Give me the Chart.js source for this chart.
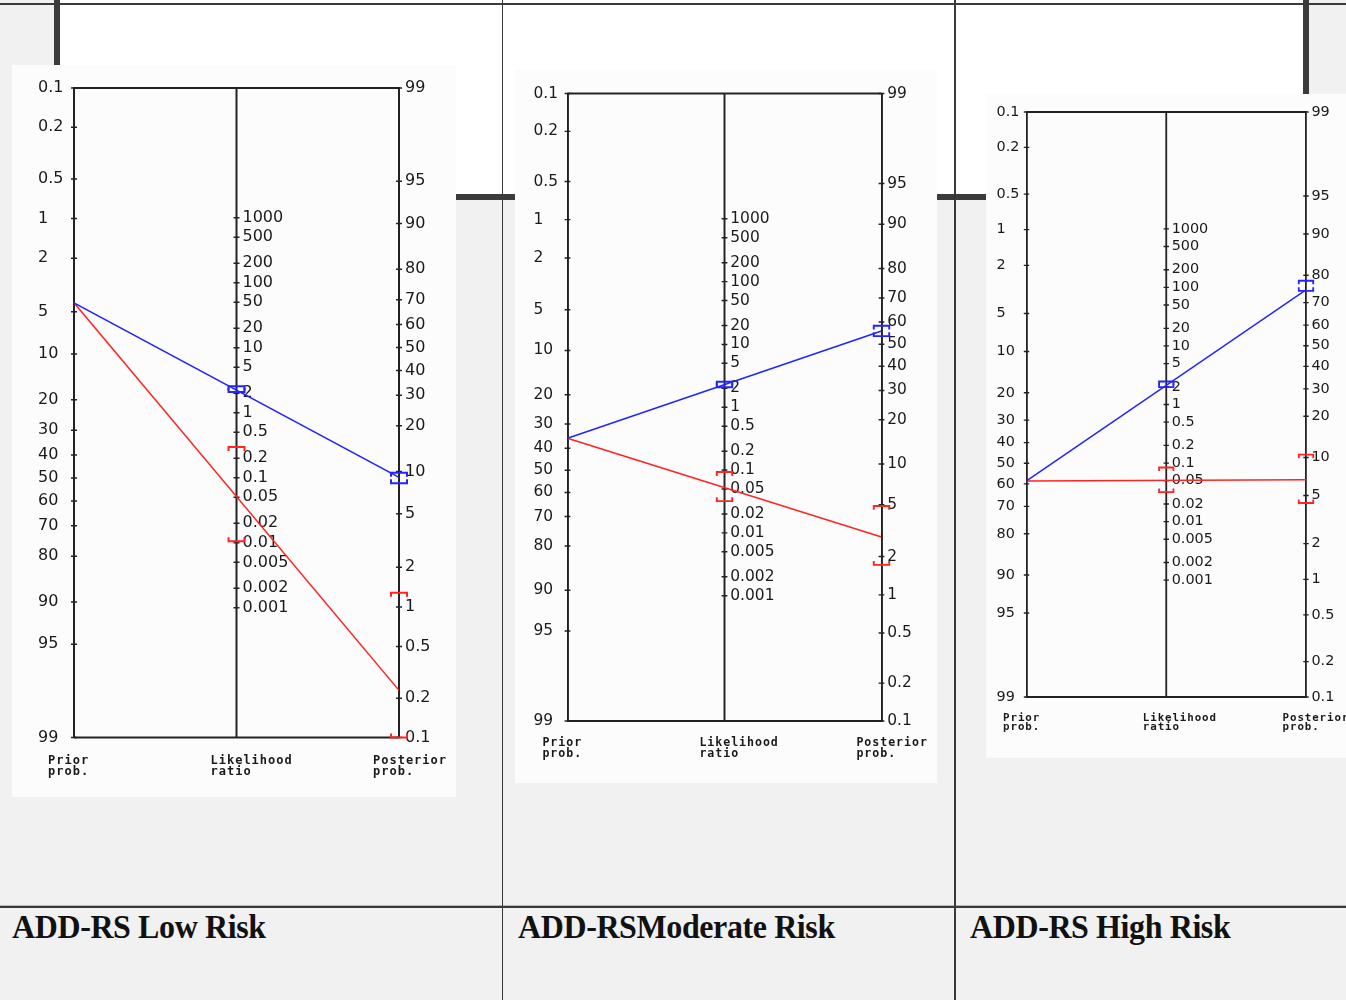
<!DOCTYPE html>
<html>
<head>
<meta charset="utf-8">
<title>ADD-RS Fagan nomograms</title>
<script src="https://cdn.jsdelivr.net/npm/chart.js"></script>
<style>
  html, body { margin: 0; padding: 0; }
  body { width: 1346px; height: 1000px; overflow: hidden; background: #f1f1f1; position: relative; }
  .connector { position: absolute; left: 54px; top: -20px; width: 1255px; height: 220px; box-sizing: border-box; background: #fff; border: 6px solid #3b3b3b; }
  .rule { position: absolute; background: #3a3a3a; }
  .panel { position: absolute; background: #fcfcfc; }
  .panel canvas { display: block; }
  .caption { position: absolute; top: 911px; font-family: 'Liberation Serif', serif; font-weight: bold; font-size: 32px; line-height: 32px; letter-spacing: -0.4px; color: #111; white-space: nowrap; transform: scaleY(1.08); transform-origin: left bottom; }
</style>
</head>
<body>
<div class="connector"></div>
<div class="rule" style="left:0;top:3px;width:1346px;height:2px"></div>
<div class="rule" style="left:0;top:905px;width:1346px;height:1px;background:#b8b8b8"></div>
<div class="rule" style="left:0;top:906px;width:1346px;height:2px"></div>
<div class="rule" style="left:502px;top:0;width:1px;height:1000px"></div>
<div class="rule" style="left:954px;top:0;width:2px;height:1000px"></div>
<div id="panels"></div>
<div id="captions"></div>

<script>
// ---- data ----
const panelTitles = ['ADD-RS Low Risk', 'ADD-RSModerate Risk', 'ADD-RS High Risk'];
const priorTicks = [0.1, 0.2, 0.5, 1, 2, 5, 10, 20, 30, 40, 50, 60, 70, 80, 90, 95, 99];
const lrTicks = [1000, 500, 200, 100, 50, 20, 10, 5, 2, 1, 0.5, 0.2, 0.1, 0.05, 0.02, 0.01, 0.005, 0.002, 0.001];
const posteriorTicks = [99, 95, 90, 80, 70, 60, 50, 40, 30, 20, 10, 5, 2, 1, 0.5, 0.2, 0.1];
const axisCaptions = [['Prior', 'prob.'], ['Likelihood', 'ratio'], ['Posterior', 'prob.']];

// pre-test probability (%)
const priorProb = [4.3, 35.7, 58.6];
// positive result (blue): LR+ CI and post-test probability (%) with CI
const lrPosLow = [2.09, 2.08, 1.98];
const lrPosHigh = [2.55, 2.55, 2.47];
const postPos = [9.1, 56.0, 75.0];
const postPosLow = [8.3, 53.7, 74.6];
const postPosHigh = [9.8, 58.4, 78.2];
// negative result (red): LR- CI and post-test probability (%) with CI
const lrNegLow = [0.0106, 0.032, 0.032];
const lrNegHigh = [0.297, 0.093, 0.084];
const postNeg = [0.23, 2.84, 6.7];
const postNegLow = [0.1, 1.72, 4.34];
const postNegHigh = [1.28, 4.9, 10.5];

// ---- page layout of the three pictures ----
const panels = [
  { left: 12, top: 65, w: 444, h: 732, axL: 74, axR: 399, axT: 88, axB: 737.5, s: 1, lab: 36 },
  { left: 515, top: 70, w: 422, h: 713, axL: 567.5, axR: 881.5, axT: 93.5, axB: 721, s: 0.965, lab: 34 },
  { left: 986, top: 94, w: 372, h: 664, axL: 1026.5, axR: 1306, axT: 112, axB: 697, s: 0.9, lab: 30 }
];
const captionX = [12, 518, 970];

const BLUE = 'rgb(35,35,255)';
const RED = 'rgb(255,35,35)';
const AXIS = '#222';
const TEXT = '#1a1a1a';

// shared vertical coordinate of a Fagan nomogram
const TOP = Math.log(999);   // -logit(0.1%)
const BOT = -Math.log(99);   // -logit(99%)
const logit = p => Math.log(p / (100 - p));
const yPrior = p => -logit(p);
const yPost = p => logit(p) + TOP + BOT;
const yLR = lr => (Math.log(lr) + TOP + BOT) / 2;

const holder = document.getElementById('panels');
const capHolder = document.getElementById('captions');

panels.forEach((pn, i) => {
  const s = pn.s;
  const div = document.createElement('div');
  div.className = 'panel';
  div.style.cssText = `left:${pn.left}px;top:${pn.top}px;width:${pn.w}px;height:${pn.h}px`;
  const canvas = document.createElement('canvas');
  canvas.width = pn.w;
  canvas.height = pn.h;
  div.appendChild(canvas);
  holder.appendChild(div);

  const cap = document.createElement('div');
  cap.className = 'caption';
  cap.style.left = captionX[i] + 'px';
  cap.textContent = panelTitles[i];
  capHolder.appendChild(cap);

  const axLrel = pn.axL - pn.left;
  const axRrel = pn.axR - pn.left;
  const tickFont = { family: 'DejaVu Sans', size: 16 * s };

  const nomogram = {
    id: 'nomogram' + i,
    beforeDatasetsDraw(chart) {
      const ctx = chart.ctx, xs = chart.scales.x, ys = chart.scales.y;
      const xL = xs.getPixelForValue(0), xM = xs.getPixelForValue(0.5), xR = xs.getPixelForValue(1);
      const yT = ys.getPixelForValue(TOP), yB = ys.getPixelForValue(BOT);
      ctx.save();
      // frame + likelihood ratio axis
      ctx.strokeStyle = AXIS;
      ctx.lineWidth = 2 * s;
      ctx.beginPath();
      ctx.moveTo(xL, yT); ctx.lineTo(xR, yT);
      ctx.moveTo(xL, yB); ctx.lineTo(xR, yB);
      ctx.moveTo(xM, yT); ctx.lineTo(xM, yB);
      ctx.stroke();
      // small tick crosses
      const tk = 3 * s;
      ctx.lineWidth = 1.5 * s;
      ctx.beginPath();
      priorTicks.forEach(p => { const y = ys.getPixelForValue(yPrior(p)); ctx.moveTo(xL - tk, y); ctx.lineTo(xL + tk, y); });
      posteriorTicks.forEach(p => { const y = ys.getPixelForValue(yPost(p)); ctx.moveTo(xR - tk, y); ctx.lineTo(xR + tk, y); });
      lrTicks.forEach(v => { const y = ys.getPixelForValue(yLR(v)); ctx.moveTo(xM - tk, y); ctx.lineTo(xM + tk, y); });
      ctx.stroke();
      // LR labels
      ctx.fillStyle = TEXT;
      ctx.font = `${16 * s}px "DejaVu Sans"`;
      ctx.textAlign = 'left';
      ctx.textBaseline = 'middle';
      lrTicks.forEach(v => ctx.fillText(String(v), xM + 6 * s, ys.getPixelForValue(yLR(v))));
      // captions under the axes
      ctx.font = `bold ${12 * s}px "DejaVu Sans Mono"`;
      ctx.letterSpacing = (1 * s) + 'px';
      [xL, xM, xR].forEach((x, k) => {
        axisCaptions[k].forEach((t, j) => ctx.fillText(t, x - 26 * s, yB + 23 * s + j * 11 * s));
      });
      ctx.restore();
    },
    afterDatasetsDraw(chart) {
      const ctx = chart.ctx, xs = chart.scales.x, ys = chart.scales.y;
      const xM = xs.getPixelForValue(0.5), xR = xs.getPixelForValue(1);
      const hw = 8 * s, pr = 4 * s;
      const bracket = (x, v, dir, color) => {
        const y = ys.getPixelForValue(v);
        ctx.strokeStyle = color;
        ctx.beginPath();
        ctx.moveTo(x - hw, y + dir * pr);
        ctx.lineTo(x - hw, y);
        ctx.lineTo(x + hw, y);
        ctx.lineTo(x + hw, y + dir * pr);
        ctx.stroke();
      };
      ctx.save();
      ctx.lineWidth = 2 * s;
      bracket(xM, yLR(lrPosHigh[i]), 1, BLUE);
      bracket(xM, yLR(lrPosLow[i]), -1, BLUE);
      bracket(xR, yPost(postPosHigh[i]), 1, BLUE);
      bracket(xR, yPost(postPosLow[i]), -1, BLUE);
      bracket(xM, yLR(lrNegHigh[i]), 1, RED);
      bracket(xM, yLR(lrNegLow[i]), -1, RED);
      bracket(xR, yPost(postNegHigh[i]), 1, RED);
      bracket(xR, yPost(postNegLow[i]), -1, RED);
      ctx.restore();
    }
  };

  new Chart(canvas, {
    type: 'line',
    data: {
      datasets: [
        {
          label: 'Positive',
          data: [{ x: 0, y: yPrior(priorProb[i]) }, { x: 1, y: yPost(postPos[i]) }],
          borderColor: BLUE, borderWidth: 1.5, pointRadius: 0, fill: false, tension: 0
        },
        {
          label: 'Negative',
          data: [{ x: 0, y: yPrior(priorProb[i]) }, { x: 1, y: yPost(postNeg[i]) }],
          borderColor: RED, borderWidth: 1.5, pointRadius: 0, fill: false, tension: 0
        }
      ]
    },
    options: {
      responsive: false,
      animation: false,
      events: [],
      layout: { padding: { left: axLrel - pn.lab, right: 0, top: pn.axT - pn.top, bottom: pn.top + pn.h - pn.axB } },
      plugins: { legend: { display: false }, tooltip: { enabled: false } },
      scales: {
        x: { type: 'linear', min: 0, max: 1, display: false },
        y: {
          type: 'linear', position: 'left', min: BOT, max: TOP,
          afterBuildTicks: sc => { sc.ticks = priorTicks.map(p => ({ value: yPrior(p) })); },
          afterFit: sc => { sc.width = pn.lab; },
          grid: { display: false, drawTicks: false, tickLength: 0 },
          border: { display: true, color: AXIS, width: 2 * s },
          ticks: { autoSkip: false, crossAlign: 'far', padding: 0, font: tickFont, color: TEXT,
                   callback: (v, idx) => String(priorTicks[idx]) }
        },
        y2: {
          type: 'linear', position: 'right', min: BOT, max: TOP,
          afterBuildTicks: sc => { sc.ticks = posteriorTicks.map(p => ({ value: yPost(p) })); },
          afterFit: sc => { sc.width = pn.w - axRrel; },
          grid: { display: false, drawTicks: false, tickLength: 0 },
          border: { display: true, color: AXIS, width: 2 * s },
          ticks: { autoSkip: false, padding: 6 * s, font: tickFont, color: TEXT,
                   callback: (v, idx) => String(posteriorTicks[idx]) }
        }
      }
    },
    plugins: [nomogram]
  });
});
</script>
</body>
</html>
